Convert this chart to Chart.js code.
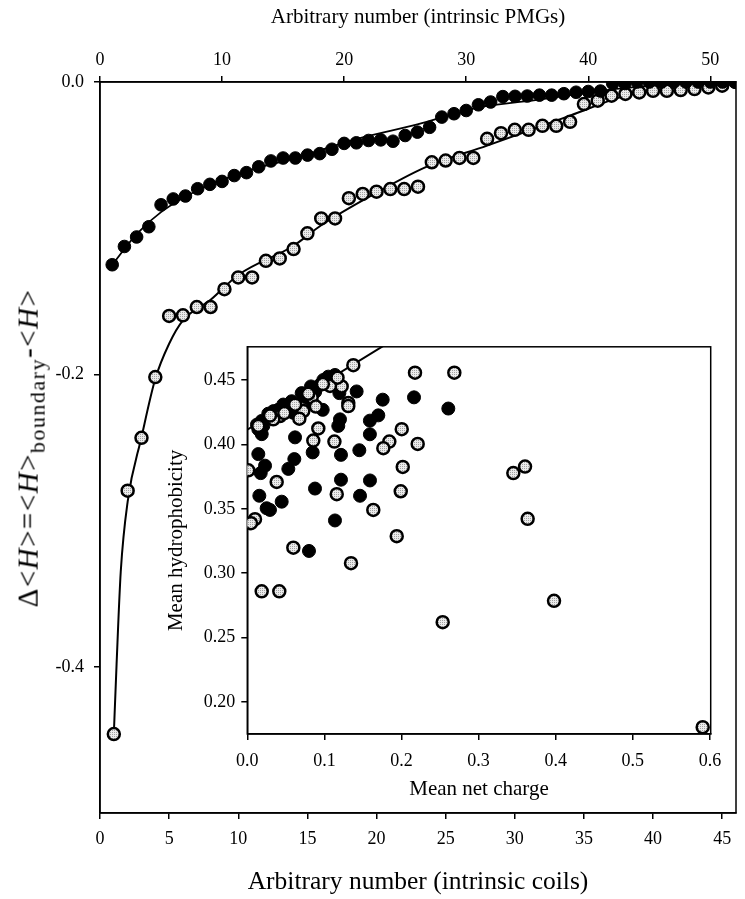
<!DOCTYPE html>
<html>
<head>
<meta charset="utf-8">
<script src="https://cdn.jsdelivr.net/npm/chart.js@4.4.1/dist/chart.umd.min.js"></script>
<style>
  html, body { margin: 0; padding: 0; background: #fff; }
  #wrap { position: relative; width: 745px; height: 899px; }
  #main { position: absolute; left: 0; top: 0; }
  #inset { position: absolute; left: 160px; top: 330px; }
  #ylab {
    position: absolute; left: 31px; top: 448px;
    transform: translate(-50%, -50%) rotate(-90deg);
    white-space: nowrap; font: 29px "Liberation Serif", serif; color: #000;
    letter-spacing: 1.5px;
  }
  #ylab sub { font-size: 22px; }
</style>
</head>
<body>
<div id="wrap">
  <canvas id="main" width="745" height="899"></canvas>
  <canvas id="inset" width="580" height="480"></canvas>
  <div id="ylab">&Delta;&lt;<i>H</i>&gt;=&lt;<i>H</i>&gt;<sub>boundary</sub>-&lt;<i>H</i>&gt;</div>
</div>
<script>
// main panel: sorted differences, index 1..n
const pmgDiff = [
  -0.125, -0.1125, -0.106, -0.099, -0.084, -0.080, -0.078, -0.073, -0.070, -0.068,
  -0.064, -0.062, -0.058, -0.054, -0.052, -0.052, -0.050, -0.049, -0.046, -0.042,
  -0.0416, -0.040, -0.0396, -0.0405, -0.0366, -0.0343, -0.031, -0.024, -0.0217, -0.0195,
  -0.0156, -0.0137, -0.010, -0.0098, -0.0096, -0.009, -0.009, -0.008, -0.007, -0.0065,
  -0.0062, -0.001, -0.001, 0, 0, 0, 0, 0, 0, 0, 0, 0
];
const coilDiff = [
  -0.446, -0.2795, -0.2434, -0.2018, -0.160, -0.1596, -0.1539, -0.1539, -0.1417, -0.1337,
  -0.1337, -0.1223, -0.1207, -0.1143, -0.1035, -0.0933, -0.0933, -0.0795, -0.0766, -0.075,
  -0.0732, -0.0732, -0.0716, -0.0549, -0.0537, -0.0519, -0.0519, -0.0389, -0.035, -0.0327,
  -0.0327, -0.030, -0.030, -0.0272, -0.0151, -0.0128, -0.0094, -0.0082, -0.0071, -0.006,
  -0.006, -0.0055, -0.0048, -0.0037, -0.0025, 0
];
// fitted curves
const pmgFitX = [1, 3, 5, 8, 12, 16, 21, 26, 31, 36, 41, 46, 52];
const pmgFitY = [-0.125, -0.104, -0.089, -0.074, -0.061, -0.052, -0.039, -0.029, -0.0175, -0.012, -0.006, -0.002, 0];
const coilFitX = [1, 1.2, 1.5, 2, 3, 4, 5, 6, 8, 10, 14, 16, 19, 23.6, 28, 34, 38, 43, 46];
const coilFitY = [-0.446, -0.398, -0.335, -0.287, -0.243, -0.203, -0.179, -0.163, -0.149, -0.132, -0.112, -0.098, -0.081, -0.058, -0.0435, -0.023, -0.0095, -0.0025, 0];

const coilTicks = [0, 5, 10, 15, 20, 25, 30, 35, 40, 45];
const pmgTicks = [0, 10, 20, 30, 40, 50];
const diffTicks = [-0.4, -0.2, 0.0];

// inset: mean net charge vs mean hydrophobicity
const pmgCharge = [
  0.0143, 0.0187, 0.0208, 0.0187, 0.0272, 0.0467, 0.0576, 0.0597, 0.0705, 0.0826,
  0.0943, 0.0986, 0.105, 0.1137, 0.0978, 0.0835, 0.1194, 0.1418, 0.1202, 0.118,
  0.159, 0.159, 0.1756, 0.2162, 0.2607, 0.1699, 0.0619, 0.0848, 0.1215, 0.1453,
  0.0143, 0.023, 0.0174, 0.061, 0.0532, 0.1215, 0.1591, 0.0878, 0.1462, 0.0156,
  0.0446, 0.0251, 0.0294, 0.1137, 0.080, 0.034, 0.040, 0.052, 0.075, 0.088,
  0.109, 0.0125
];
const pmgHydro = [
  0.4119, 0.4184, 0.4145, 0.4081, 0.424, 0.4311, 0.4337, 0.4247, 0.440, 0.4452,
  0.4464, 0.4502, 0.4528, 0.4541, 0.427, 0.4334, 0.440, 0.4413, 0.4196, 0.4145,
  0.4186, 0.408, 0.4349, 0.4367, 0.428, 0.4227, 0.4056, 0.3939, 0.392, 0.3956,
  0.3926, 0.3836, 0.3778, 0.3887, 0.3811, 0.3727, 0.3721, 0.3658, 0.3602, 0.3602,
  0.3556, 0.3505, 0.3492, 0.341, 0.3173, 0.426, 0.427, 0.430, 0.437, 0.441,
  0.449, 0.4155
];
const coilCharge = [
  0.1375, 0.2175, 0.2685, 0.1224, 0.131, 0.131, 0.1073, 0.0835, 0.0726, 0.0675,
  0.0424, 0.0337, 0.0143, 0.0921, 0.0856, 0.113, 0.0013, 0.2003, 0.1842, 0.1764,
  0.221, 0.2016, 0.0381, 0.116, 0.1634, 0.010, 0.0048, 0.0597, 0.1345, 0.199,
  0.1938, 0.0187, 0.0415, 0.2534, 0.345, 0.3602, 0.3636, 0.3978, 0.5906, 0.048,
  0.062, 0.079, 0.098, 0.117, 0.0295, 0.089
];
const coilHydro = [
  0.4617, 0.4559, 0.4559, 0.4452, 0.4324, 0.4299, 0.4456, 0.4367, 0.426, 0.4201,
  0.4222, 0.4196, 0.4145, 0.4125, 0.4031, 0.4023, 0.380, 0.412, 0.4023, 0.3972,
  0.4005, 0.3826, 0.3709, 0.3614, 0.3492, 0.342, 0.3389, 0.3198, 0.3078, 0.3637,
  0.3288, 0.2859, 0.2859, 0.2619, 0.3778, 0.3829, 0.3423, 0.2785, 0.1803, 0.4245,
  0.431, 0.4395, 0.447, 0.452, 0.4225, 0.4295
];
const trendX = [0, 0.18];
const trendY = [0.4115, 0.478];

const chargeTicks = [0, 0.1, 0.2, 0.3, 0.4, 0.5, 0.6];
const hydroTicks = [0.20, 0.25, 0.30, 0.35, 0.40, 0.45];

const serif = '"Liberation Serif", "Times New Roman", serif';
Chart.defaults.font.family = serif;
Chart.defaults.color = '#000';

function stipple() {
  const c = document.createElement('canvas');
  c.width = 2; c.height = 2;
  const g = c.getContext('2d');
  g.fillStyle = '#ebebeb'; g.fillRect(0, 0, 2, 2);
  g.fillStyle = '#a2a2a2'; g.fillRect(0, 0, 1, 1);
  return g.createPattern(c, 'repeat');
}
const dots = stipple();

const boxPlugin = {
  id: 'box',
  beforeDatasetsDraw(chart) {
    const { ctx, chartArea: a } = chart;
    ctx.save();
    ctx.strokeStyle = '#000';
    ctx.lineWidth = 1.5;
    ctx.strokeRect(a.left, a.top, a.right - a.left, a.bottom - a.top);
    ctx.restore();
  }
};

function axis(extra) {
  return Object.assign({
    type: 'linear',
    grid: { display: true, drawOnChartArea: false, drawTicks: true, tickLength: 6, color: '#000', lineWidth: 1.5 },
    border: { display: true, color: '#000', width: 1.5 },
  }, extra);
}
const pts = (xs, ys) => xs.map((x, i) => ({ x: x, y: ys[i] }));

new Chart(document.getElementById('main'), {
  type: 'scatter',
  data: {
    datasets: [
      {
        data: pmgDiff.map((v, i) => ({ x: i + 1, y: v })),
        xAxisID: 'x2', yAxisID: 'y',
        pointRadius: 6.3, pointBackgroundColor: '#000', pointBorderColor: '#000', pointBorderWidth: 1,
        order: 1
      },
      {
        data: coilDiff.map((v, i) => ({ x: i + 1, y: v })),
        xAxisID: 'x', yAxisID: 'y',
        pointRadius: 6, pointBackgroundColor: dots, pointBorderColor: '#000', pointBorderWidth: 2.5,
        order: 2
      },
      {
        data: pts(pmgFitX, pmgFitY),
        xAxisID: 'x2', yAxisID: 'y',
        showLine: true, pointRadius: 0, borderColor: '#000', borderWidth: 1.8,
        cubicInterpolationMode: 'monotone', order: 3
      },
      {
        data: pts(coilFitX, coilFitY),
        xAxisID: 'x', yAxisID: 'y',
        showLine: true, pointRadius: 0, borderColor: '#000', borderWidth: 2,
        cubicInterpolationMode: 'monotone', order: 4
      }
    ]
  },
  options: {
    responsive: false,
    animation: false,
    layout: { padding: { left: 0, right: 9, top: 0, bottom: 0 } },
    plugins: { legend: { display: false }, tooltip: { enabled: false } },
    scales: {
      x: axis({
        position: 'bottom', min: 0, max: 46,
        afterBuildTicks: s => { s.ticks = coilTicks.map(v => ({ value: v })); },
        afterFit: s => { s.height = 86; },
        ticks: { font: { size: 18 }, padding: 9, maxRotation: 0, autoSkip: false },
        title: { display: true, text: 'Arbitrary number (intrinsic coils)', font: { size: 25.5 }, padding: { top: 0, bottom: 1 } }
      }),
      x2: axis({
        position: 'top', min: 0, max: 52.1,
        afterBuildTicks: s => { s.ticks = pmgTicks.map(v => ({ value: v })); },
        afterFit: s => { s.height = 82; },
        ticks: { font: { size: 18 }, padding: 5, maxRotation: 0, autoSkip: false },
        title: { display: true, text: 'Arbitrary number (intrinsic PMGs)', font: { size: 21 }, padding: { top: 5, bottom: 0 } }
      }),
      y: axis({
        position: 'left', min: -0.5, max: 0,
        afterBuildTicks: s => { s.ticks = diffTicks.map(v => ({ value: v })); },
        afterFit: s => { s.width = 100; },
        ticks: { font: { size: 18 }, padding: 10, autoSkip: false, callback: v => v.toFixed(1) }
      })
    }
  },
  plugins: [boxPlugin]
});

new Chart(document.getElementById('inset'), {
  type: 'scatter',
  data: {
    datasets: [
      {
        data: pts(coilCharge, coilHydro),
        pointRadius: 6, pointBackgroundColor: dots, pointBorderColor: '#000', pointBorderWidth: 2.5,
        order: 1
      },
      {
        data: pts(pmgCharge, pmgHydro),
        pointRadius: 6.5, pointBackgroundColor: '#000', pointBorderColor: '#000', pointBorderWidth: 1,
        order: 2
      },
      {
        data: pts(trendX, trendY),
        showLine: true, pointRadius: 0, borderColor: '#000', borderWidth: 2, order: 3
      }
    ]
  },
  options: {
    responsive: false,
    animation: false,
    layout: { padding: { left: 0, right: 29.3, top: 11, bottom: 0 } },
    plugins: { legend: { display: false }, tooltip: { enabled: false } },
    scales: {
      x: axis({
        position: 'bottom', min: 0, max: 0.601,
        afterBuildTicks: s => { s.ticks = chargeTicks.map(v => ({ value: v })); },
        afterFit: s => { s.height = 76; },
        ticks: { font: { size: 18 }, padding: 10, maxRotation: 0, autoSkip: false, callback: v => v.toFixed(1) },
        title: { display: true, text: 'Mean net charge', font: { size: 21 }, padding: { top: 0, bottom: 8 } }
      }),
      y: axis({
        position: 'left', min: 0.175, max: 0.476,
        afterBuildTicks: s => { s.ticks = hydroTicks.map(v => ({ value: v })); },
        afterFit: s => { s.width = 87.3; },
        ticks: { font: { size: 18 }, padding: 6, autoSkip: false, callback: v => v.toFixed(2) },
        title: { display: true, text: 'Mean hydrophobicity', font: { size: 21 }, padding: { top: 4, bottom: 0 } }
      })
    }
  },
  plugins: [boxPlugin]
});
</script>
</body>
</html>
